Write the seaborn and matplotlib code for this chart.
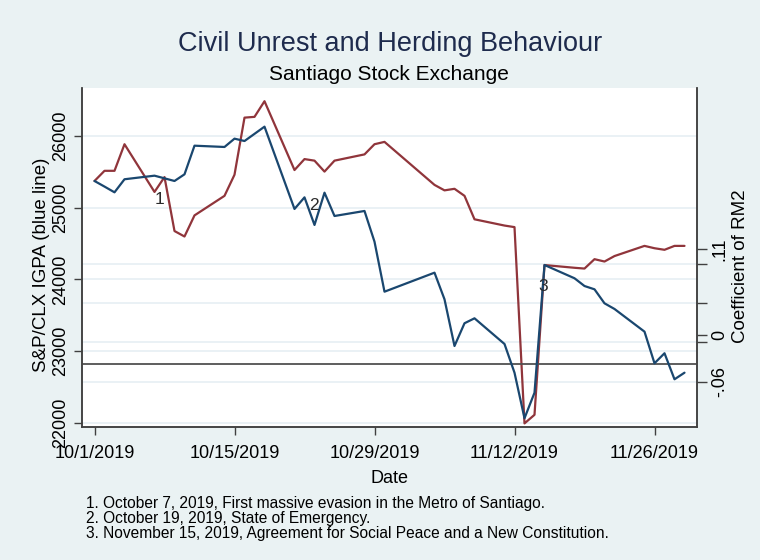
import matplotlib
matplotlib.use("Agg")
import matplotlib.pyplot as plt
import matplotlib.transforms as mtransforms
import seaborn as sns
import pandas as pd

# ---------------- data ----------------
dates = ["2019-10-01", "2019-10-02", "2019-10-03", "2019-10-04", "2019-10-07", "2019-10-08",
         "2019-10-09", "2019-10-10", "2019-10-11", "2019-10-14", "2019-10-15", "2019-10-16",
         "2019-10-17", "2019-10-18", "2019-10-21", "2019-10-22", "2019-10-23", "2019-10-24",
         "2019-10-25", "2019-10-28", "2019-10-29", "2019-10-30", "2019-11-04", "2019-11-05",
         "2019-11-06", "2019-11-07", "2019-11-08", "2019-11-11", "2019-11-12", "2019-11-13",
         "2019-11-14", "2019-11-15", "2019-11-18", "2019-11-19", "2019-11-20", "2019-11-21",
         "2019-11-22", "2019-11-25", "2019-11-26", "2019-11-27", "2019-11-28", "2019-11-29"]

igpa = [25373, 25295, 25215, 25397, 25447, 25410,
        25373, 25466, 25865, 25847, 25963, 25930,
        26030, 26130, 24983, 25145, 24760, 25210,
        24885, 24955, 24527, 23830, 24095, 23724,
        23073, 23390, 23459, 23101, 22701, 22066,
        22422, 24202, 24017, 23909, 23863, 23668,
        23589, 23273, 22832, 22972, 22609, 22701]

rm2 = [0.197, 0.210, 0.210, 0.244, 0.183, 0.202,
       0.133, 0.126, 0.153, 0.178, 0.205, 0.278,
       0.279, 0.299, 0.211, 0.225, 0.223, 0.209,
       0.223, 0.231, 0.244, 0.247, 0.192, 0.185,
       0.187, 0.178, 0.148, 0.140, 0.138, -0.113,
       -0.102, 0.0895, 0.086, 0.085, 0.097, 0.094,
       0.101, 0.114, 0.111, 0.109, 0.114, 0.114]

x_ticks = ["2019-10-01", "2019-10-15", "2019-10-29", "2019-11-12", "2019-11-26"]
x_tick_labels = ["10/1/2019", "10/15/2019", "10/29/2019", "11/12/2019", "11/26/2019"]

left_ticks = [22000, 23000, 24000, 25000, 26000]
left_tick_labels = ["22000", "23000", "24000", "25000", "26000"]

right_ticks = [-0.06, -0.0095, 0.0, 0.041, 0.091, 0.11]
right_tick_labels = ["-.06", "", "0", "", "", ".11"]
right_grid = [-0.06, -0.0095, 0.041, 0.091]
ref_line = -0.037

events = ["1", "2", "3"]
event_dates = ["2019-10-07 11:00", "2019-10-22 23:00", "2019-11-14 21:00"]
event_y = [25108, 25038, 23902]

notes = ["1. October 7, 2019, First massive evasion in the Metro of Santiago.",
         "2. October 19, 2019, State of Emergency.",
         "3. November 15, 2019, Agreement for Social Peace and a New Constitution."]

title = "Civil Unrest and Herding Behaviour"
subtitle = "Santiago Stock Exchange"

# ---------------- style ----------------
sns.set_theme(style="white")
plt.rcParams["font.family"] = ["Liberation Sans", "DejaVu Sans"]

BG = "#EAF2F3"
BLUE = "#1a476f"
RED = "#90353b"
GRID = "#E4EEF2"
AXC = "#404040"

df = pd.DataFrame({"date": pd.to_datetime(dates), "igpa": igpa, "rm2": rm2})

fig = plt.figure(figsize=(7.6, 5.6), dpi=100, facecolor=BG)
ax2 = fig.add_axes([82 / 760, 1 - 427 / 560, (697 - 82) / 760, (427 - 88) / 560])
ax = ax2.twinx()
# ax2 = right axis (bottom layer), ax = left axis (top layer)
ax.yaxis.set_label_position("left")
ax.yaxis.tick_left()
ax2.yaxis.set_label_position("right")
ax2.yaxis.tick_right()
ax2.set_facecolor("white")
ax.patch.set_visible(False)

x0 = pd.Timestamp("2019-10-01")
xlim = (x0 - pd.Timedelta(hours=30), x0 + pd.Timedelta(hours=60 * 24 + 6))

ax.set_ylim(21944, 26669)
ax2.set_ylim(-0.1176, 0.3159)
ax.set_xlim(xlim)
ax2.set_xlim(xlim)

# gridlines (all on bottom layer)
tr_left = mtransforms.blended_transform_factory(ax2.transAxes, ax.transData)
for v in left_ticks:
    ax2.plot([0, 1], [v, v], transform=tr_left, color=GRID, lw=1.1, zorder=0.5)
for v in right_grid:
    ax2.axhline(v, color=GRID, lw=1.1, zorder=0.5)

sns.lineplot(data=df, x="date", y="rm2", ax=ax2, color=RED, lw=1.6, zorder=2)
sns.lineplot(data=df, x="date", y="igpa", ax=ax, color=BLUE, lw=1.6, zorder=3)
ax2.axhline(ref_line, color="#505050", lw=1.3, zorder=4)

for t, d, yv in zip(events, event_dates, event_y):
    ax.text(pd.Timestamp(d), yv, t, fontsize=12.5, color="#2a2a2a",
            ha="center", va="center", zorder=5)

# axes formatting
ax2.set_xticks(pd.to_datetime(x_ticks))
ax2.set_xticklabels(x_tick_labels)
ax.set_xticks(pd.to_datetime(x_ticks))
ax.tick_params(axis="x", bottom=False, labelbottom=False)
ax2.tick_params(axis="x", bottom=True, length=6, width=1, color=AXC, labelsize=13, pad=7,
                labelcolor="black")
ax2.set_xlabel("Date", fontsize=13, labelpad=6, color="black")
ax.set_xlabel("")

ax.set_yticks(left_ticks)
ax.set_yticklabels(left_tick_labels, rotation=90, va="center")
ax.tick_params(axis="y", left=True, length=6, width=1, color=AXC, labelsize=13, pad=3,
               labelcolor="black")
ax.set_ylabel("S&P/CLX IGPA (blue line)", fontsize=13.5, color="black")
ax.yaxis.set_label_coords((50 - 82) / 615, (427 - 265) / 339)

ax2.set_yticks(right_ticks)
ax2.set_yticklabels(right_tick_labels, rotation=90, va="center")
ax2.tick_params(axis="y", right=True, left=False, length=7, width=1, color=AXC, labelsize=13,
                pad=3, labelcolor="black")
ax2.set_ylabel("Coefficient of RM2", fontsize=13.5, color="black")
ax2.yaxis.set_label_coords((732 - 82) / 615, (427 - 266) / 339)

for a in (ax, ax2):
    a.spines["top"].set_visible(False)
    for s in ("left", "right", "bottom"):
        a.spines[s].set_color(AXC)
        a.spines[s].set_linewidth(1.1)

fig.text(390 / 760, 1 - 44 / 560, title, ha="center", va="center", fontsize=19.5, color="#1e2b4d")
fig.text(389 / 760, 1 - 74 / 560, subtitle, ha="center", va="center", fontsize=15, color="black")

for i, n in enumerate(notes):
    fig.text(86 / 760, 1 - (508 + 15 * i) / 560, n, ha="left", va="baseline", fontsize=11.2,
             color="black")

fig.savefig("out.png", dpi=100, facecolor=BG)
